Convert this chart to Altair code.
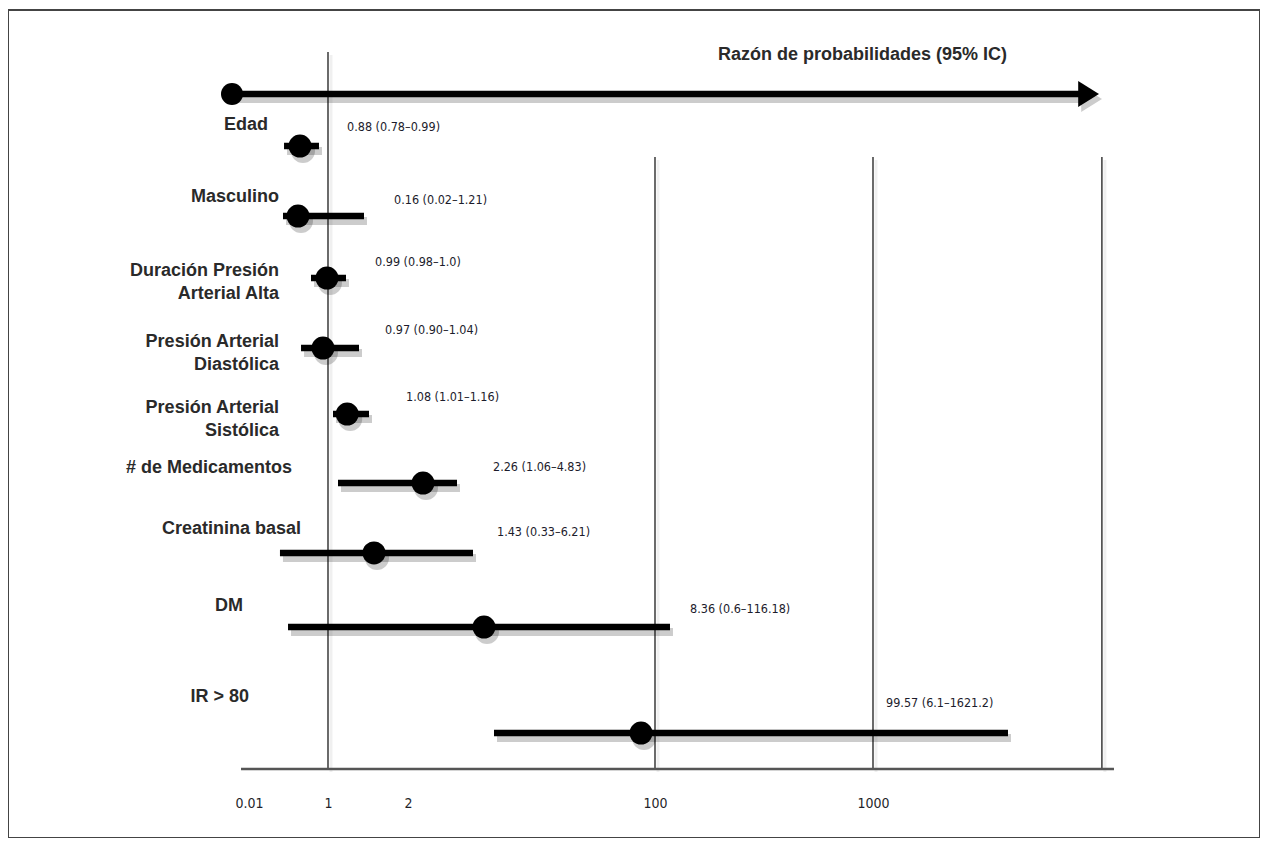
import altair as alt
import pandas as pd

# ---------------- data ----------------
labels = ["Edad", "Masculino", "Duración Presión\nArterial Alta", "Presión Arterial\nDiastólica",
          "Presión Arterial\nSistólica", "# de Medicamentos", "Creatinina basal", "DM", "IR > 80"]
notes = ["0.88 (0.78–0.99)", "0.16 (0.02–1.21)", "0.99 (0.98–1.0)", "0.97 (0.90–1.04)",
         "1.08 (1.01–1.16)", "2.26 (1.06–4.83)", "1.43 (0.33–6.21)", "8.36 (0.6–116.18)",
         "99.57 (6.1–1621.2)"]
# where each marker / interval is drawn on the chart's (non-uniform) axis
point = [0.649, 0.624, 0.987, 0.937, 1.24, 7.95, 1.575, 32.15, 94.45]
ci_low = [0.449, 0.436, 0.787, 0.662, 1.0625, 1.125, 0.398, 0.499, 36.12]
ci_high = [0.887, 1.45, 1.225, 1.3875, 1.5125, 21.44, 27.79, 161.9, 1557.3]
tick_values = [0.01, 1, 2, 100, 1000]
ref_lines = [1, 100, 1000, 1945]
arrow_start, arrow_end, arrow_tip = -0.203, 1854.6, 1890.0
axis_start, axis_end = -0.090, 1994.9

# ---------------- layout (row units) ----------------
row = [1.0, 1.956, 2.802, 3.758, 4.659, 5.601, 6.556, 7.567, 9.014]
label_row = [0.713, 1.696, 2.700, 3.669, 4.570, 5.396, 6.229, 7.280, 8.522]
label_x = [0.248, 0.386, 0.386, 0.386, 0.386, 0.549, 0.662, -0.065, 0.01]
note_row = [0.741, 1.737, 2.584, 3.512, 4.427, 5.382, 6.270, 7.321, 8.604]
note_x = [1.2375, 1.825, 1.5875, 1.7125, 1.975, 35.72, 37.31, 244.5, 1053.7]
ref_top = [-0.283, 1.150, 1.150, 1.150]
base_row = 9.505
arrow_row = 0.29
title_row = -0.242
title_x = 1553.2

W, H = 1252, 828
xs = alt.Scale(domain=tick_values, range=[241, 320, 400, 647, 865], nice=False, zero=False, clamp=False)
ys = alt.Scale(domain=[-0.857, 10.447], reverse=True, nice=False, zero=False)
NARROW = "DejaVu Sans Condensed, Liberation Sans Narrow, sans-serif"
xaxis = alt.Axis(values=tick_values, title=None, grid=False, ticks=False, domain=False,
                 labelFont=NARROW, labelFontSize=14, labelColor="#1f1f2a", offset=-69,
                 labelPadding=27, labelFlush=False, labelOverlap=False,
                 labelExpr="datum.value == 0.01 ? '0.01' : format(datum.value, 'd')")


def X(f):
    return alt.X(f, type="quantitative", scale=xs, axis=xaxis)


def Y(f):
    return alt.Y(f, type="quantitative", scale=ys, axis=None)


rows_df = pd.DataFrame({"label": labels, "note": notes, "point": point, "lo": ci_low, "hi": ci_high,
                        "row": row, "lrow": label_row, "lx": label_x, "nrow": note_row, "nx": note_x})
ref_df = pd.DataFrame({"v": ref_lines, "top": ref_top, "bottom": [base_row] * len(ref_lines)})
axis_df = pd.DataFrame({"a": [axis_start], "b": [axis_end], "r": [base_row]})
arrow_df = pd.DataFrame({"a": [arrow_start], "b": [arrow_end], "tip": [arrow_tip], "r": [arrow_row]})
title_df = pd.DataFrame({"t": ["Razón de probabilidades (95% IC)"], "x": [title_x], "r": [title_row]})

SH = dict(color="#000000", opacity=0.2)

vlines = alt.Chart(ref_df).mark_rule(color="#2b2b2b", strokeWidth=1.4).encode(
    x=X("v"), y=Y("top"), y2="bottom")
vlines_sh = alt.Chart(ref_df).mark_rule(strokeWidth=3, xOffset=3, x2Offset=3, yOffset=3, y2Offset=3,
                                        color="#000", opacity=0.06).encode(
    x=X("v"), y=Y("top"), y2="bottom")
baseline = alt.Chart(axis_df).mark_rule(color="#555555", strokeWidth=2.5).encode(
    x=X("a"), x2="b", y=Y("r"))

arrow_sh = alt.Chart(arrow_df).mark_rule(strokeWidth=8, xOffset=3, x2Offset=3, yOffset=5, y2Offset=5,
                                         **SH).encode(x=X("a"), x2="b", y=Y("r"))
arrow_line = alt.Chart(arrow_df).mark_rule(color="black", strokeWidth=6.5).encode(
    x=X("a"), x2="b", y=Y("r"))
arrow_dot = alt.Chart(arrow_df).mark_point(filled=True, shape="circle", size=484, color="black",
                                           opacity=1).encode(x=X("a"), y=Y("r"))
arrow_head_sh = alt.Chart(arrow_df).mark_point(filled=True, shape="M-0.8,-1L0.8,0L-0.8,1Z", size=676,
                                               xOffset=3, yOffset=5, **SH).encode(x=X("tip"), y=Y("r"))
arrow_head = alt.Chart(arrow_df).mark_point(filled=True, shape="M-0.8,-1L0.8,0L-0.8,1Z", size=676,
                                            color="black", opacity=1).encode(x=X("tip"), y=Y("r"))

ci_sh = alt.Chart(rows_df).mark_rule(strokeWidth=8, xOffset=3, x2Offset=3, yOffset=5, y2Offset=5,
                                     **SH).encode(x=X("lo"), x2="hi", y=Y("row"))
ci = alt.Chart(rows_df).mark_rule(color="black", strokeWidth=6.5).encode(
    x=X("lo"), x2="hi", y=Y("row"))
dots_sh = alt.Chart(rows_df).mark_point(filled=True, shape="circle", size=576, xOffset=3, yOffset=5,
                                        **SH).encode(x=X("point"), y=Y("row"))
dots = alt.Chart(rows_df).mark_point(filled=True, shape="circle", size=529, color="black",
                                     opacity=1).encode(x=X("point"), y=Y("row"))

row_labels = alt.Chart(rows_df).mark_text(font="Liberation Sans", fontWeight="bold", fontSize=18,
                                          color="#2a2a2a", align="right", baseline="middle",
                                          lineBreak="\n", lineHeight=23).encode(
    x=X("lx"), y=Y("lrow"), text="label")
note_text = alt.Chart(rows_df).mark_text(font=NARROW, fontSize=12.5, color="#1c1c2c",
                                         align="left", baseline="middle").encode(
    x=X("nx"), y=Y("nrow"), text="note")
title = alt.Chart(title_df).mark_text(font="Liberation Sans", fontWeight="bold", fontSize=18,
                                      color="#2a2a2a", align="right", baseline="middle").encode(
    x=X("x"), y=Y("r"), text="t")

chart = alt.layer(
    vlines_sh, vlines, baseline,
    arrow_sh, arrow_head_sh, arrow_line, arrow_dot, arrow_head,
    ci_sh, dots_sh, ci, dots,
    row_labels, note_text, title,
).properties(
    width=W, height=H, background="white",
    padding={"top": 2, "left": 0, "right": 0, "bottom": 0},
).configure_view(stroke="#444444", strokeWidth=2)

chart.save("out.html", embed_options={"renderer": "svg", "actions": False})
